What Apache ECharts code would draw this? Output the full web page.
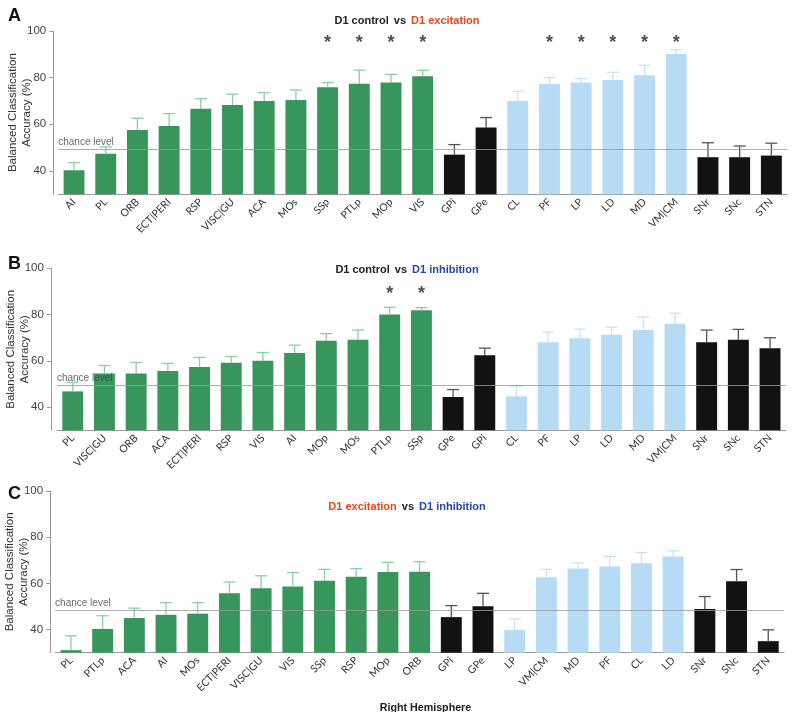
<!DOCTYPE html>
<html>
<head>
<meta charset="utf-8">
<script src="https://cdn.jsdelivr.net/npm/echarts@6/dist/echarts.min.js"></script>
<style>
html,body{margin:0;padding:0;background:#fff;}
#c{width:796px;height:712px;}
</style>
</head>
<body>
<div id="c"></div>
<script>
// ---- data ----
const typeSeq = ['ctx','ctx','ctx','ctx','ctx','ctx','ctx','ctx','ctx','ctx','ctx','ctx','bg','bg','th','th','th','th','th','th','bg','bg','bg'];

const catsA = ['AI','PL','ORB','ECT|PERI','RSP','VISC|GU','ACA','MOs','SSp','PTLp','MOp','VIS','GPi','GPe','CL','PF','LP','LD','MD','VM|CM','SNr','SNc','STN'];
const valsA = [40.3,47.4,57.6,59.3,66.7,68.3,70.0,70.4,75.9,77.4,77.9,80.6,47.0,58.6,70.0,77.3,77.9,79.0,81.0,90.1,45.9,45.9,46.6];
const errA  = [3.3,2.9,5.0,5.3,4.3,4.6,3.6,4.3,2.0,5.8,3.5,2.6,4.3,4.3,4.1,2.7,1.7,3.3,4.3,1.9,6.2,4.8,5.3];
const starsA = ['SSp','PTLp','MOp','VIS','PF','LP','LD','MD','VM|CM'];

const catsB = ['PL','VISC|GU','ORB','ACA','ECT|PERI','RSP','VIS','AI','MOp','MOs','PTLp','SSp','GPe','GPi','CL','PF','LP','LD','MD','VM|CM','SNr','SNc','STN'];
const valsB = [46.8,54.5,54.5,55.6,57.3,59.2,60.1,63.4,68.7,69.1,80.0,81.9,44.4,62.4,44.7,68.1,69.8,71.3,73.3,76.0,68.1,69.1,65.4];
const errB  = [4.0,3.5,4.8,3.3,4.2,2.7,3.5,3.4,3.1,4.2,3.2,1.1,3.2,3.1,4.3,4.3,3.9,3.3,5.6,4.6,5.2,4.5,4.6];
const starsB = ['PTLp','SSp'];

const catsC = ['PL','PTLp','ACA','AI','MOs','ECT|PERI','VISC|GU','VIS','SSp','RSP','MOp','ORB','GPi','GPe','LP','VM|CM','MD','PF','CL','LD','SNr','SNc','STN'];
const valsC = [31.1,40.3,45.0,46.4,46.9,55.7,57.9,58.7,61.1,62.9,64.9,65.0,45.4,50.1,39.9,62.7,66.4,67.3,68.7,71.6,48.9,60.9,35.0];
const errC  = [6.2,5.7,4.3,5.3,4.8,4.9,5.4,6.0,5.0,3.5,4.2,4.4,5.0,5.6,4.7,3.4,2.5,4.4,4.6,2.5,5.4,5.1,4.9];
const starsC = [];

const chance = [49.1, 49.3, 48.4];
const starLevel = [96.0, 90.3, 0];
const yTicks = [40, 60, 80, 100];

// ---- styles ----
const barColor = {ctx:'#38965c', bg:'#121212', th:'#b6dcf5'};
const errColor = {ctx:'#86d0a2', bg:'#555555', th:'#c4e4f8'};
const panels = [
  {cats:catsA, vals:valsA, err:errA, stars:starsA, left:58.2, top:31, height:163.3, off:5,
   title:['D1 control','vs','D1 excitation'], letter:'A', letterTop:2, titleTop:7},
  {cats:catsB, vals:valsB, err:errB, stars:starsB, left:56.9, top:268.3, height:162, off:6,
   title:['D1 control','vs','D1 inhibition'], letter:'B', letterTop:250, titleTop:256},
  {cats:catsC, vals:valsC, err:errC, stars:starsC, left:55.1, top:491, height:161.7, off:5,
   title:['D1 excitation','vs','D1 inhibition'], letter:'C', letterTop:480, titleTop:493}
];

const grid=[], xAxis=[], yAxis=[], series=[], title=[];
panels.forEach((p,i)=>{
  grid.push({left:p.left, top:p.top, height:p.height, width:729, containLabel:false, outerBoundsMode:'none'});
  xAxis.push({type:'category', gridIndex:i, data:p.cats,
    axisLine:{lineStyle:{color:'#9a9a9a', width:1}},
    axisTick:{alignWithLabel:true, length:4, lineStyle:{color:'#9a9a9a'}},
    axisLabel:{rotate:45, fontSize:10.5, color:'#333', fontFamily:'Lato', margin:6, interval:0}});
  yAxis.push({type:'value', gridIndex:i, min:30, max:100, offset:p.off,
    name:'Balanced Classification\nAccuracy (%)', nameLocation:'middle', nameGap:19, nameRotate:90, nameMoveOverlap:false,
    nameTextStyle:{fontSize:11.5, color:'#333', fontFamily:'Liberation Sans', lineHeight:14},
    splitLine:{show:false},
    axisLine:{show:true, lineStyle:{color:'#9a9a9a'}},
    axisTick:{show:true, length:4, customValues:yTicks, lineStyle:{color:'#9a9a9a'}},
    axisLabel:{customValues:yTicks, fontSize:11.5, color:'#444', fontFamily:'Liberation Sans', margin:7}});
  series.push({type:'bar', xAxisIndex:i, yAxisIndex:i, barWidth:'66%',
    data:p.vals.map((v,k)=>({value:v, itemStyle:{color:barColor[typeSeq[k]]}})),
    markLine:{silent:true, symbol:'none', animation:false,
      lineStyle:{color:'#999', width:1, type:'solid', opacity:0.8},
      label:{show:true, position:'insideStartTop', formatter:'chance level', fontSize:10, color:'#444', fontFamily:'Liberation Sans', distance:[0,2]},
      data:[{yAxis:chance[i]}]}});
  series.push({type:'custom', xAxisIndex:i, yAxisIndex:i, z:3,
    data:p.vals.map((v,k)=>[k, v, p.err[k], ['ctx','bg','th'].indexOf(typeSeq[k])]),
    renderItem:(params, api)=>{
      const x=api.value(0), v=api.value(1), e=api.value(2);
      const c = errColor[['ctx','bg','th'][api.value(3)]];
      const a=api.coord([x,v]), b=api.coord([x,v+e]);
      return {type:'group', children:[
        {type:'line', shape:{x1:a[0],y1:a[1],x2:b[0],y2:b[1]}, style:{stroke:c, lineWidth:1.3}},
        {type:'line', shape:{x1:b[0]-6,y1:b[1],x2:b[0]+6,y2:b[1]}, style:{stroke:c, lineWidth:1.3}}
      ]};
    }});
  series.push({type:'scatter', xAxisIndex:i, yAxisIndex:i, symbolSize:1, itemStyle:{color:'rgba(0,0,0,0)'},
    data:p.stars.map(s=>[p.cats.indexOf(s), starLevel[i]]),
    label:{show:true, position:'inside', formatter:'*', fontSize:18, fontWeight:'bold', color:'#222', fontFamily:'Liberation Sans', offset:[0,3]}});
  const t = p.title;
  title.push({text:(p.letter==='C' ? '{r|'+t[0]+'} {a|'+t[1]+'} {b|'+t[2]+'}' : '{a|'+t[0]+'} {a|'+t[1]+'} {b|'+t[2]+'}'),
    left:402, textAlign:'center', top:p.titleTop,
    textStyle:{rich:{
      a:{fontSize:11, fontWeight:'bold', color:'#222', fontFamily:'Liberation Sans'},
      r:{fontSize:11, fontWeight:'bold', color:'#e8461e', fontFamily:'Liberation Sans'},
      b:{fontSize:11, fontWeight:'bold', color:(p.letter==='A' ? '#e8461e' : '#2747a8'), fontFamily:'Liberation Sans'}
    }}});
  title.push({text:p.letter, left:3, top:p.letterTop, textStyle:{fontSize:18, fontWeight:'bold', color:'#111', fontFamily:'Liberation Sans'}});
});
title.push({text:'Right Hemisphere', left:420.5, textAlign:'center', top:698, textStyle:{fontSize:10.7, fontWeight:'bold', color:'#222', fontFamily:'Liberation Sans'}});

const chart = echarts.init(document.getElementById('c'), null, {renderer:'canvas'});
chart.setOption({animation:false, backgroundColor:'#fff', title, grid, xAxis, yAxis, series});
</script>
</body>
</html>
